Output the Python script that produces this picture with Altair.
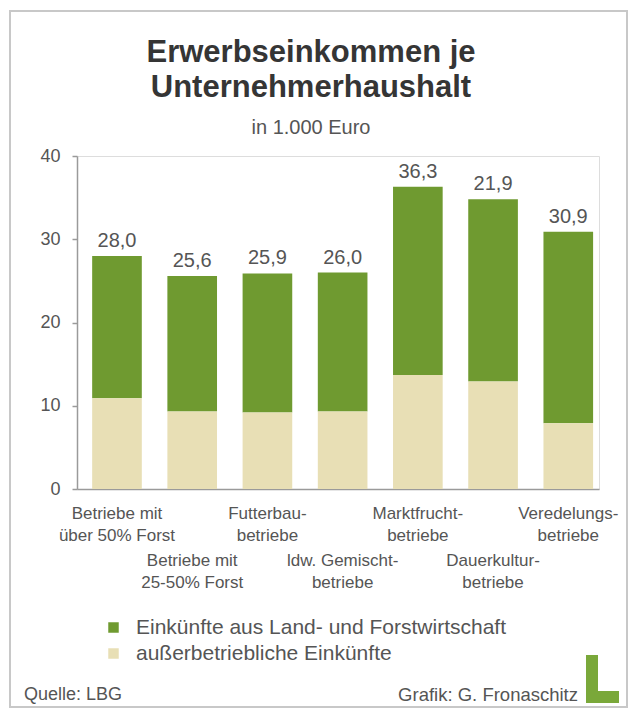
import altair as alt
import pandas as pd

# ---------------- data ----------------
categories = [
    "Betriebe mit über 50% Forst",
    "Betriebe mit 25-50% Forst",
    "Futterbaubetriebe",
    "ldw. Gemischtbetriebe",
    "Marktfruchtbetriebe",
    "Dauerkulturbetriebe",
    "Veredelungsbetriebe",
]
label_line1 = ["Betriebe mit", "Betriebe mit", "Futterbau-", "ldw. Gemischt-",
               "Marktfrucht-", "Dauerkultur-", "Veredelungs-"]
label_line2 = ["über 50% Forst", "25-50% Forst", "betriebe", "betriebe",
               "betriebe", "betriebe", "betriebe"]
land_forst = [17.1, 16.3, 16.7, 16.7, 22.6, 21.9, 23.0]
ausser = [10.9, 9.3, 9.2, 9.3, 13.7, 12.9, 7.9]
value_labels = ["28,0", "25,6", "25,9", "26,0", "36,3", "21,9", "30,9"]
series = ["Einkünfte aus Land- und Forstwirtschaft", "außerbetriebliche Einkünfte"]
y_ticks = [0, 10, 20, 30, 40]

GREEN = "#6f9a30"
BEIGE = "#e8dfb5"
LOGO = "#7aa83a"
TXT = "#555555"
AX = "#9a9a9a"
FONT = "Liberation Sans"

# ---------------- tables ----------------
rows = []
for c, g, b in zip(categories, land_forst, ausser):
    rows.append({"cat": c, "series": series[0], "value": g, "ord": 1})
    rows.append({"cat": c, "series": series[1], "value": b, "ord": 0})
bars_df = pd.DataFrame(rows)

tops_df = pd.DataFrame({
    "cat": categories,
    "top": [g + b for g, b in zip(land_forst, ausser)],
    "label": value_labels,
})

lab_df = pd.DataFrame({
    "cat": categories,
    "lab": [a + "\n" + b for a, b in zip(label_line1, label_line2)],
    "row": [i % 2 for i in range(len(categories))],
})

one = pd.DataFrame({"a": [0]})

xscale = alt.Scale(paddingInner=0.34, paddingOuter=0.14, align=0.72)
X = alt.X("cat:N", sort=categories, scale=xscale,
          axis=alt.Axis(labels=False, ticks=False, title=None,
                        domainColor=AX, domainWidth=1.5))

bars = alt.Chart(bars_df).mark_bar().encode(
    x=X,
    y=alt.Y("value:Q", stack=True,
            scale=alt.Scale(domain=[0, 40], nice=False),
            axis=alt.Axis(values=y_ticks, title=None, grid=False,
                          tickSize=5, tickColor=AX, tickWidth=1.5,
                          domainColor=AX, domainWidth=1.5,
                          labelFontSize=18, labelColor=TXT, labelFont=FONT,
                          labelPadding=12)),
    color=alt.Color("series:N", scale=alt.Scale(domain=series, range=[GREEN, BEIGE]),
                    legend=alt.Legend(orient="none", legendX=26, legendY=461,
                                      title=None, symbolType="square",
                                      symbolSize=110, symbolStrokeWidth=0,
                                      labelFontSize=21, labelFont=FONT,
                                      labelColor=TXT, labelOffset=12,
                                      labelLimit=0, rowPadding=4)),
    order=alt.Order("ord:Q"),
)

tops = alt.Chart(tops_df).mark_text(
    baseline="alphabetic", dy=-9, fontSize=20, font=FONT, color=TXT
).encode(x=alt.X("cat:N", sort=categories), y=alt.Y("top:Q"), text="label:N")

def xlabels(row, ypix):
    return alt.Chart(lab_df).transform_filter(alt.datum.row == row).mark_text(
        baseline="top", lineBreak="\n", lineHeight=22, fontSize=17,
        font=FONT, color=TXT
    ).encode(x=alt.X("cat:N", sort=categories), y=alt.value(ypix), text="lab:N")

def deco(text, x, y, size, **kw):
    params = dict(fontSize=size, font=FONT, color=TXT)
    params.update(kw)
    return alt.Chart(one).mark_text(**params).encode(
        x=alt.value(x), y=alt.value(y), text=alt.value(text))

title1 = deco("Erwerbseinkommen je", 234, -103, 31, fontWeight="bold",
              color="#353535", baseline="middle")
title2 = deco("Unternehmerhaushalt", 234, -68, 31, fontWeight="bold",
              color="#353535", baseline="middle")
subtitle = deco("in 1.000 Euro", 234, -28, 20, baseline="middle")
quelle = deco("Quelle: LBG", -53, 539, 18, align="left", baseline="middle")
grafik = deco("Grafik: G. Fronaschitz", 501, 539, 18.5, align="right",
              baseline="middle")

# logo (stylised "L")
logo_v = alt.Chart(one).mark_rect(color=LOGO).encode(
    x=alt.value(509), x2=alt.value(521), y=alt.value(499), y2=alt.value(547))
logo_h = alt.Chart(one).mark_rect(color=LOGO).encode(
    x=alt.value(509), x2=alt.value(542), y=alt.value(535), y2=alt.value(547))

border = alt.Chart(one).mark_rect(filled=False, stroke="#c8c8c8",
                                  strokeWidth=2).encode(
    x=alt.value(-67), x2=alt.value(550), y=alt.value(-145), y2=alt.value(551))

chart = alt.layer(
    border, bars, tops, xlabels(0, 350), xlabels(1, 397),
    title1, title2, subtitle, quelle, grafik, logo_v, logo_h,
).properties(
    width=522, height=333,
    autosize=alt.AutoSizeParams(type="none"),
    padding={"left": 69, "top": 148, "right": 29, "bottom": 219},
).configure_view(stroke=None).configure(background="white")

chart.save("out.html", embed_options={"renderer": "svg", "actions": False})
